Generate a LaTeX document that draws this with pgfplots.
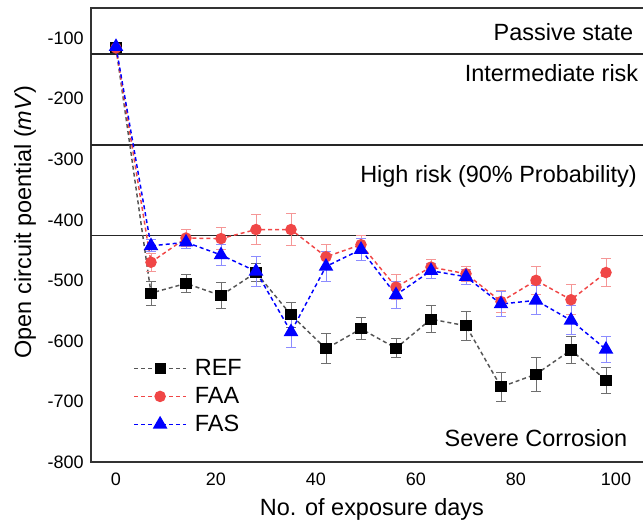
\documentclass[border=0pt]{standalone}
\usepackage{pgfplots}
\pgfplotsset{compat=1.18}
\usepackage{fontspec}
\setmainfont{Liberation Sans}
\definecolor{refline}{RGB}{85,85,85}
\definecolor{faared}{RGB}{240,70,70}
\definecolor{fasblue}{RGB}{0,0,255}
\definecolor{referr}{RGB}{110,110,110}
\definecolor{faaerr}{RGB}{245,150,150}
\definecolor{faserr}{RGB}{140,140,255}
\pgfplotstableread{
x y e
0 -116 5
7 -521 20
14 -505 15
21 -525 21
28 -487 15
35 -557 21
42 -613 25
49 -580 18
56 -612 16
63 -564 22
70 -575 24
77 -676 24
84 -655 28
91 -615 23
98 -665 21
}\refdata
\pgfplotstableread{
x y e
0 -116 5
7 -470 15
14 -430 14
21 -431 18
28 -416 25
35 -416 26
42 -461 21
49 -441 15
56 -511 21
63 -478 12
70 -489 12
77 -535 18
84 -500 23
91 -532 25
98 -487 23
}\faadata
\pgfplotstableread{
x y e
0 -114 5
7 -443 10
14 -437 10
21 -458 18
28 -485 25
35 -585 25
42 -477 24
49 -449 18
56 -524 23
63 -484 12
70 -494 12
77 -539 21
84 -533 24
91 -566 24
98 -614 22
}\fasdata
\begin{document}
\begin{tikzpicture}
\useasboundingbox (-68.25pt,-49.5pt) rectangle (414pt,346.5pt);
\begin{axis}[
 scale only axis, width=415.5pt, height=340.5pt,
 xmin=-5, xmax=105.8, ymin=-800, ymax=-50,
 xtick={0,20,...,100}, ytick={-800,-700,...,-100},
 major tick length=0pt,
 axis line style={draw=black!80, line width=1.2pt},
 tick label style={font=\fontsize{13.5}{16}\selectfont},
 /pgf/number format/assume math mode=true,
 xticklabel style={yshift=-5pt},
 yticklabel style={xshift=-2pt},
 label style={font=\fontsize{17.6}{21}\selectfont},
 xlabel={No. of exposure days},
 ylabel={Open circuit poential (\textit{mV})},
 xlabel style={at={(axis description cs:0.507,-0.105)}, anchor=center},
 ylabel style={at={(axis description cs:-0.119,0.529)}, anchor=center},
 legend style={at={(axis description cs:0.076,0.232)}, anchor=north west, draw=none, fill=none, inner sep=0pt,
   font=\fontsize{17.6}{21}\selectfont, row sep=3.2pt, column sep=4pt},
 legend cell align=left,
 legend image code/.code={\draw[mark repeat=2,mark phase=2,#1] plot coordinates {(0pt,0pt) (19.5pt,0pt) (39pt,0pt)};},
 clip=false,
]
\addplot[black!85, line width=1.3pt, forget plot] coordinates {(-5,-126) (105.8,-126)};
\addplot[black!85, line width=1.3pt, forget plot] coordinates {(-5,-276) (105.8,-276)};
\addplot[black!85, line width=1.3pt, forget plot] coordinates {(-5,-426) (105.8,-426)};

\addplot[refline, dash pattern=on 3pt off 2.25pt, line width=1.1pt, mark=square*, mark size=3.6pt,
  mark options={solid, fill=black, draw=black},
  error bars/.cd, y dir=both, y explicit,
  error bar style={referr, line width=0.7pt, solid},
  error mark options={referr, mark size=3.4pt, line width=0.7pt, rotate=90, solid}]
  table[x=x, y=y, y error=e] {\refdata};
\addlegendentry{REF}
\addplot[faared, dash pattern=on 3pt off 2.25pt, line width=1.1pt, mark=*, mark size=3.75pt,
  mark options={solid, fill=faared, draw=faared},
  error bars/.cd, y dir=both, y explicit,
  error bar style={faaerr, line width=0.7pt, solid},
  error mark options={faaerr, mark size=3.4pt, line width=0.7pt, rotate=90, solid}]
  table[x=x, y=y, y error=e] {\faadata};
\addlegendentry{FAA}
\addplot[fasblue, dash pattern=on 3pt off 2.25pt, line width=1.1pt, mark=triangle*, mark size=5.25pt,
  mark options={solid, fill=fasblue, draw=fasblue},
  error bars/.cd, y dir=both, y explicit,
  error bar style={faserr, line width=0.7pt, solid},
  error mark options={faserr, mark size=3.4pt, line width=0.7pt, rotate=90, solid}]
  table[x=x, y=y, y error=e] {\fasdata};
\addlegendentry{FAS}

\node[anchor=base east, inner sep=0pt, font=\fontsize{17.6}{21}\selectfont] at (axis cs:103.5,-104.5) {Passive state};
\node[anchor=base east, inner sep=0pt, font=\fontsize{17.6}{21}\selectfont] at (axis cs:104.5,-171.7) {Intermediate risk};
\node[anchor=base east, inner sep=0pt, font=\fontsize{17.6}{21}\selectfont] at (axis cs:104.2,-338.6) {High risk (90\% Probability)};
\node[anchor=base east, inner sep=0pt, font=\fontsize{17.6}{21}\selectfont] at (axis cs:102.3,-774.8) {Severe Corrosion};
\end{axis}
\end{tikzpicture}
\end{document}
